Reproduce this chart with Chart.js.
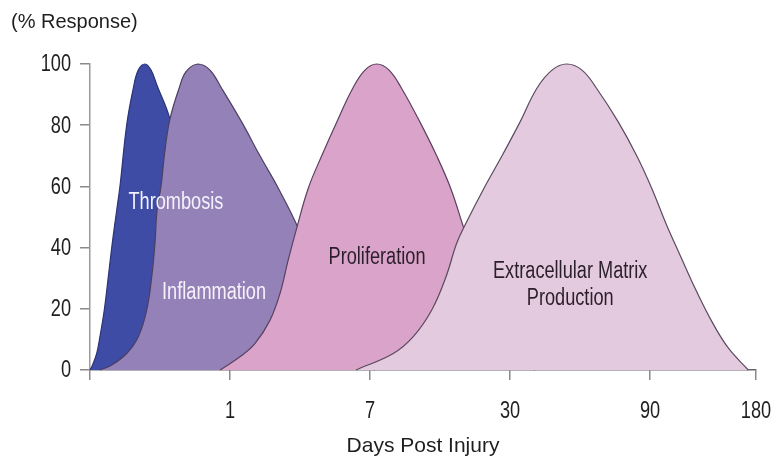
<!DOCTYPE html>
<html>
<head>
<meta charset="utf-8">
<script src="https://cdn.jsdelivr.net/npm/chart.js@4.4.1/dist/chart.umd.min.js"></script>
<style>
  html, body { margin: 0; padding: 0; background: #fff; }
  canvas { display: block; }
</style>
</head>
<body>
<canvas id="phases" width="776" height="460"></canvas>
<script>
// x values are positions on the broken day axis (1 unit per labelled tick)
var tickPositions = [0, 1, 2, 3, 4, 4.757];
var tickLabels = ['', '1', '7', '30', '90', '180'];

var thrombosisX = [0, 0.012, 0.048, 0.071, 0.102, 0.131, 0.159, 0.191, 0.214, 0.262, 0.309, 0.345, 0.393, 0.436, 0.479, 0.571, 0.643, 0.714, 0.786, 0.857, 0.929, 1.0];
var thrombosisY = [0, 1, 5.4, 10.9, 19.6, 30.5, 41.4, 52.3, 60, 80, 92, 98, 100, 98, 93, 82, 65, 45, 25, 10, 3, 0];

var inflammationX = [0.071, 0.15, 0.262, 0.345, 0.405, 0.441, 0.464, 0.479, 0.507, 0.536, 0.571, 0.636, 0.686, 0.771, 0.857, 0.941, 1.084, 1.214, 1.345, 1.488, 1.607, 1.714, 1.821, 1.929, 2.036];
var inflammationY = [0, 1.5, 5.4, 10.9, 19.6, 30.5, 41.4, 52.3, 60, 72, 82, 92, 97.5, 100, 98, 92, 81, 70, 59.4, 46.3, 32, 18, 7, 2, 0];

var proliferationX = [0.93, 1.071, 1.179, 1.286, 1.357, 1.416, 1.476, 1.559, 1.655, 1.762, 1.876, 1.964, 2.048, 2.136, 2.226, 2.357, 2.476, 2.576, 2.666, 2.75, 2.857, 2.964, 3.071, 3.179];
var proliferationY = [0, 4.3, 8.7, 16.3, 25, 36, 46.3, 59.4, 70, 81, 92, 98, 100, 98, 92, 81, 70, 59.4, 46.9, 35, 20, 8, 2, 0];

var matrixX = [1.9, 2.166, 2.309, 2.441, 2.543, 2.619, 2.679, 2.814, 2.943, 3.071, 3.191, 3.3, 3.405, 3.514, 3.619, 3.774, 3.905, 4.012, 4.119, 4.214, 4.321, 4.441, 4.559, 4.702];
var matrixY = [0, 5.4, 10.9, 19.6, 30.5, 41.4, 47.4, 59.4, 70, 81, 92, 98, 100, 98, 92, 81, 70, 59.4, 47.3, 37.6, 26.8, 15.9, 7.2, 0];

var phaseNames = ['Thrombosis', 'Inflammation', 'Proliferation', 'Extracellular Matrix', 'Production'];
var phaseNameX = [0.614, 0.886, 2.05, 3.43, 3.43];
var phaseNameY = [54.6, 25.2, 36.6, 32, 23.2];

var sansFamily = '"Liberation Sans", Arial, sans-serif';

function points(xs, ys) {
  var out = [];
  for (var i = 0; i < xs.length; i++) {
    out.push({ x: xs[i], y: ys[i] });
  }
  return out;
}

function phase(label, xs, ys, fillColor, edgeColor, order) {
  return {
    label: label,
    data: points(xs, ys),
    backgroundColor: fillColor,
    borderColor: edgeColor,
    borderWidth: 1.2,
    fill: 'origin',
    pointRadius: 0,
    tension: 0.4,
    clip: false,
    order: order
  };
}

// the source uses a narrow face, so squeeze the text horizontally
function narrowText(ctx, text, x, y) {
  ctx.save();
  ctx.translate(x, y);
  ctx.scale(0.79, 1);
  ctx.fillText(text, 0, 0);
  ctx.restore();
}

var textPlugin = {
  id: 'phaseText',
  afterDraw: function(chart) {
    var ctx = chart.ctx;
    var xs = chart.scales.x;
    var ys = chart.scales.y;
    var colors = ['#f2f2fc', '#f6f2fa', '#2b1f2b', '#2b1f2b', '#2b1f2b'];
    ctx.save();
    ctx.font = '23px ' + sansFamily;
    ctx.textBaseline = 'middle';

    ctx.textAlign = 'center';
    for (var i = 0; i < phaseNames.length; i++) {
      ctx.fillStyle = colors[i];
      narrowText(ctx, phaseNames[i], xs.getPixelForValue(phaseNameX[i]), ys.getPixelForValue(phaseNameY[i]));
    }

    ctx.fillStyle = '#1e1e1e';
    xs.ticks.forEach(function(t, i) {
      narrowText(ctx, tickLabels[i], xs.getPixelForValue(t.value), 412);
    });
    ctx.textAlign = 'right';
    ys.ticks.forEach(function(t) {
      narrowText(ctx, String(t.value), xs.left - 19, ys.getPixelForValue(t.value) + 1);
    });

    ctx.textAlign = 'left';
    ctx.font = '20px ' + sansFamily;
    ctx.fillText('(% Response)', 11, 22);
    ctx.restore();
  }
};

new Chart(document.getElementById('phases'), {
  type: 'line',
  data: {
    datasets: [
      phase('Thrombosis', thrombosisX, thrombosisY, '#3e4ca6', '#2c3478', 4),
      phase('Inflammation', inflammationX, inflammationY, '#9481b8', '#4d3f62', 3),
      phase('Proliferation', proliferationX, proliferationY, '#daa3c9', '#5a4160', 2),
      phase('Extracellular Matrix Production', matrixX, matrixY, '#e4cadf', '#5a4a5e', 1)
    ]
  },
  options: {
    responsive: false,
    animation: false,
    devicePixelRatio: 1,
    layout: { padding: { top: 64, right: 20, left: 0, bottom: 0 } },
    plugins: {
      legend: { display: false },
      tooltip: { enabled: false }
    },
    scales: {
      x: {
        type: 'linear',
        min: 0,
        max: 4.757,
        afterFit: function(scale) { scale.height = 90; },
        afterBuildTicks: function(scale) {
          scale.ticks = tickPositions.map(function(v) { return { value: v }; });
        },
        ticks: { display: false, autoSkip: false },
        grid: { drawOnChartArea: false, drawTicks: true, tickLength: 10, color: '#8a8a8a', lineWidth: 1.5 },
        border: { color: '#666', width: 1.5 },
        title: {
          display: true,
          text: 'Days Post Injury',
          color: '#1e1e1e',
          font: { family: sansFamily, size: 21 },
          padding: { top: 0, bottom: 1 }
        }
      },
      y: {
        min: 0,
        max: 100,
        afterFit: function(scale) { scale.width = 90; },
        ticks: { display: false, stepSize: 20 },
        grid: { drawOnChartArea: false, drawTicks: true, tickLength: 10, color: '#8a8a8a', lineWidth: 1.5 },
        border: { color: '#9a9a9a', width: 1.5 }
      }
    }
  },
  plugins: [textPlugin]
});
</script>
</body>
</html>
